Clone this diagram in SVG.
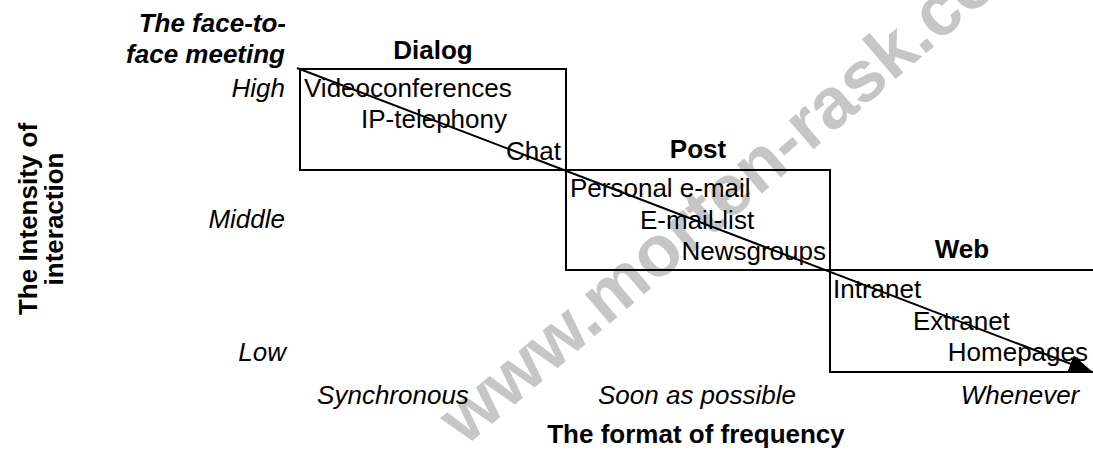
<svg xmlns="http://www.w3.org/2000/svg" width="1093" height="450" viewBox="0 0 1093 450">
  <style>
    text { font-family: "Liberation Sans", Arial, sans-serif; font-size: 26px; fill: #000; }
    .b { font-weight: bold; }
    .i { font-style: italic; }
    .mid { text-anchor: middle; }
    .end { text-anchor: end; }
    .frame { fill: none; stroke: #000; stroke-width: 2; }
    .wm { font-size: 72px; font-weight: bold; fill: #c6c6c6; }
  </style>
  <defs>
    <marker id="head" markerUnits="userSpaceOnUse" markerWidth="24" markerHeight="18" refX="23" refY="9" orient="auto">
      <path d="M0,0 L24,9 L0,18 Z" fill="#000"/>
    </marker>
  </defs>

  <rect width="1093" height="450" fill="#fff"/>

  <!-- site mark -->
  <text class="wm" transform="translate(465,447) rotate(-40.5)">www.morten-rask.com</text>

  <!-- axis captions -->
  <g id="axis-y">
    <text class="b i end" x="286" y="32">The face-to-</text>
    <text class="b i end" x="285" y="63">face meeting</text>
    <text class="i end" x="285" y="97">High</text>
    <text class="i end" x="285" y="228">Middle</text>
    <text class="i end" x="286" y="361">Low</text>
    <text class="b mid" transform="translate(37,219) rotate(-90)">The Intensity of</text>
    <text class="b mid" transform="translate(63,219) rotate(-90)">interaction</text>
  </g>
  <g id="axis-x">
    <text class="i mid" x="393" y="404">Synchronous</text>
    <text class="i mid" x="697" y="404">Soon as possible</text>
    <text class="i mid" x="1020" y="404">Whenever</text>
    <text class="b mid" x="696" y="443">The format of frequency</text>
  </g>

  <!-- Dialog -->
  <g id="dialog">
    <rect class="frame" x="300" y="69" width="266" height="101"/>
    <text class="b mid" x="433" y="59">Dialog</text>
    <text x="304" y="97">Videoconferences</text>
    <text x="361" y="128">IP-telephony</text>
    <text class="end" x="561" y="160">Chat</text>
  </g>

  <!-- Post -->
  <g id="post">
    <rect class="frame" x="566" y="170" width="264" height="100"/>
    <text class="b mid" x="698" y="158">Post</text>
    <text x="570" y="197">Personal e-mail</text>
    <text x="640" y="229">E-mail-list</text>
    <text class="end" x="826" y="260">Newsgroups</text>
  </g>

  <!-- Web -->
  <g id="web">
    <path class="frame" d="M1094,270 H830 V372 H1094"/>
    <text class="b mid" x="962" y="258">Web</text>
    <text x="833" y="298">Intranet</text>
    <text x="913" y="330">Extranet</text>
    <text class="end" x="1088" y="361">Homepages</text>
  </g>

  <!-- trend arrow -->
  <g id="connectors">
    <line x1="297" y1="68" x2="1092" y2="372" stroke="#000" stroke-width="2" marker-end="url(#head)"/>
  </g>
</svg>
